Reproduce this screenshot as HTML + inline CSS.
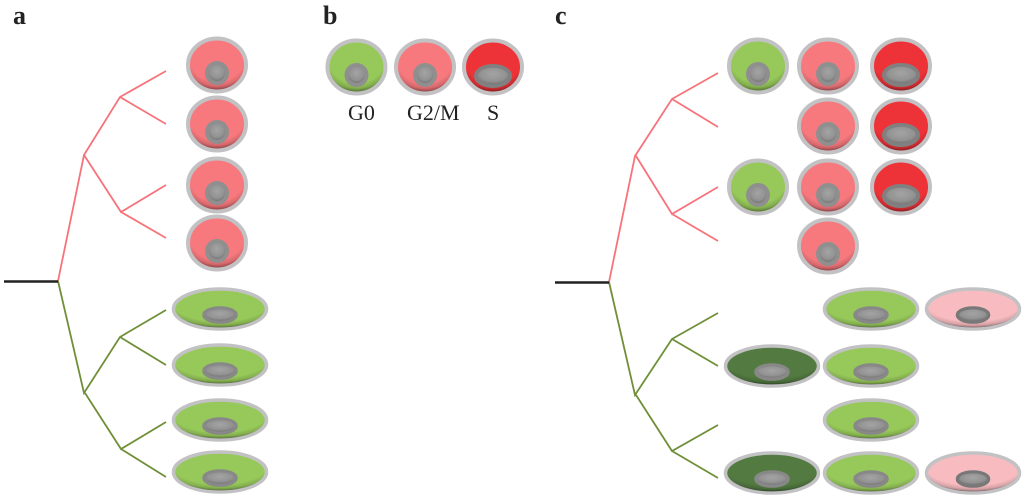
<!DOCTYPE html>
<html>
<head>
<meta charset="utf-8">
<style>
html,body{margin:0;padding:0;background:#fff;width:1024px;height:496px;overflow:hidden}
svg{display:block}
text{font-family:"Liberation Serif",serif;fill:#222}
.h{font-weight:bold;font-size:26px}
.l{font-size:22px}
</style>
</head>
<body>
<svg width="1024" height="496" viewBox="0 0 1024 496" xmlns="http://www.w3.org/2000/svg">
<defs>
<radialGradient id="sh" cx="0.5" cy="0.3" r="0.72">
<stop offset="0" stop-color="#000" stop-opacity="0"/>
<stop offset="0.74" stop-color="#000" stop-opacity="0"/>
<stop offset="0.88" stop-color="#000" stop-opacity="0.14"/>
<stop offset="1" stop-color="#000" stop-opacity="0.5"/>
</radialGradient>
<radialGradient id="nu" cx="0.5" cy="0.38" r="0.68">
<stop offset="0" stop-color="#a4a4a4"/>
<stop offset="0.65" stop-color="#929292"/>
<stop offset="1" stop-color="#6f6f6f"/>
</radialGradient>
<g id="rnuc"><ellipse cx="0" cy="8" rx="9.800" ry="9.800" fill="none" stroke="#8f8f8f" stroke-width="4.400"/><ellipse cx="0" cy="8" rx="8" ry="8" fill="url(#nu)"/></g>
<g id="snuc"><ellipse cx="0" cy="9" rx="17" ry="10" fill="none" stroke="#808080" stroke-width="4"/><ellipse cx="0" cy="9" rx="15.200" ry="8.200" fill="url(#nu)"/></g>
<g id="fnuc"><ellipse cx="0" cy="6" rx="16" ry="7" fill="none" stroke="#888888" stroke-width="3.600"/><ellipse cx="0" cy="6" rx="14.400" ry="5.600" fill="url(#nu)"/></g>
<g id="pnuc"><ellipse cx="0" cy="6" rx="15.500" ry="7" fill="none" stroke="#787878" stroke-width="3.600"/><ellipse cx="0" cy="6" rx="13.900" ry="5.600" fill="url(#nu)"/></g>
<ellipse id="rs" cx="0" cy="0" rx="27" ry="24.500" fill="url(#sh)"/>
<ellipse id="fs" cx="0" cy="0" rx="45" ry="18.500" fill="url(#sh)"/>
<g id="pink"><ellipse rx="29" ry="26.500" fill="#f7797e" stroke="#c2c2c4" stroke-width="4"/><use href="#rs"/><use href="#rnuc"/></g>
<g id="green"><ellipse rx="29" ry="26.500" fill="#97c95a" stroke="#c2c2c4" stroke-width="4"/><use href="#rs"/><use href="#rnuc"/></g>
<g id="red"><ellipse rx="29" ry="26.500" fill="#ee3338" stroke="#c2c2c4" stroke-width="4"/><use href="#rs"/><use href="#snuc"/></g>
<g id="fg"><ellipse rx="46.500" ry="20" fill="#97c95a" stroke="#c2c2c4" stroke-width="3.500"/><use href="#fs"/><use href="#fnuc"/></g>
<g id="fd"><ellipse rx="46.500" ry="20" fill="#537b41" stroke="#c2c2c4" stroke-width="3.500"/><use href="#fs"/><use href="#fnuc"/></g>
<g id="fp"><ellipse rx="46.500" ry="20" fill="#f8bcc0" stroke="#c2c2c4" stroke-width="3.500"/><use href="#fs"/><use href="#pnuc"/></g>
</defs>

<!-- Panel labels -->
<text class="h" x="13" y="24">a</text>
<text class="h" x="323" y="24">b</text>
<text class="h" x="555" y="24">c</text>

<!-- Tree a -->
<g fill="none" stroke-width="1.800">
<path d="M58 281L84 155L120 97L166 71M120 97L166 124M84 155L121 212L166 185M121 212L166 238" stroke="#f7737a"/>
<path d="M58 281L84 393L120 337L166 310M120 337L166 365M85 393L121 449L166 422M121 449L166 477" stroke="#6f8f38"/>
</g>
<path d="M4 281.500H58" stroke="#222" stroke-width="2.500"/>

<!-- Tree c -->
<g fill="none" stroke-width="1.800">
<path d="M609 282L635 156L672 99L718 73M672 99L718 127M636 156L672 214L718 187M672 214L718 241" stroke="#f7737a"/>
<path d="M609 282L635 395L672 339L718 313M672 339L718 366M636 395L672 451L718 425M672 451L718 478" stroke="#6f8f38"/>
</g>
<path d="M555 282.500H609" stroke="#222" stroke-width="2.500"/>

<!-- Panel a cells -->
<use href="#pink" x="217" y="65"/>
<use href="#pink" x="217" y="124"/>
<use href="#pink" x="217" y="185"/>
<use href="#pink" x="217" y="243"/>
<use href="#fg" x="220" y="309"/>
<use href="#fg" x="220" y="365"/>
<use href="#fg" x="220" y="420"/>
<use href="#fg" x="220" y="472"/>

<!-- Panel b -->
<use href="#green" x="356.500" y="67"/>
<use href="#pink" x="425" y="67"/>
<use href="#red" x="493" y="67"/>
<text class="l" x="348" y="120">G0</text>
<text class="l" x="407" y="120">G2/M</text>
<text class="l" x="487" y="120">S</text>

<!-- Panel c cells -->
<use href="#green" x="758" y="66"/>
<use href="#pink" x="828" y="66"/>
<use href="#red" x="901" y="66"/>
<use href="#pink" x="828" y="126"/>
<use href="#red" x="901" y="126"/>
<use href="#green" x="758" y="187"/>
<use href="#pink" x="828" y="187"/>
<use href="#red" x="901" y="187"/>
<use href="#pink" x="828" y="246"/>
<use href="#fg" x="871" y="309"/>
<use href="#fp" x="973" y="309"/>
<use href="#fd" x="772" y="366"/>
<use href="#fg" x="871" y="366"/>
<use href="#fg" x="871" y="420"/>
<use href="#fd" x="772" y="473"/>
<use href="#fg" x="871" y="473"/>
<use href="#fp" x="973" y="473"/>
</svg>
</body>
</html>
